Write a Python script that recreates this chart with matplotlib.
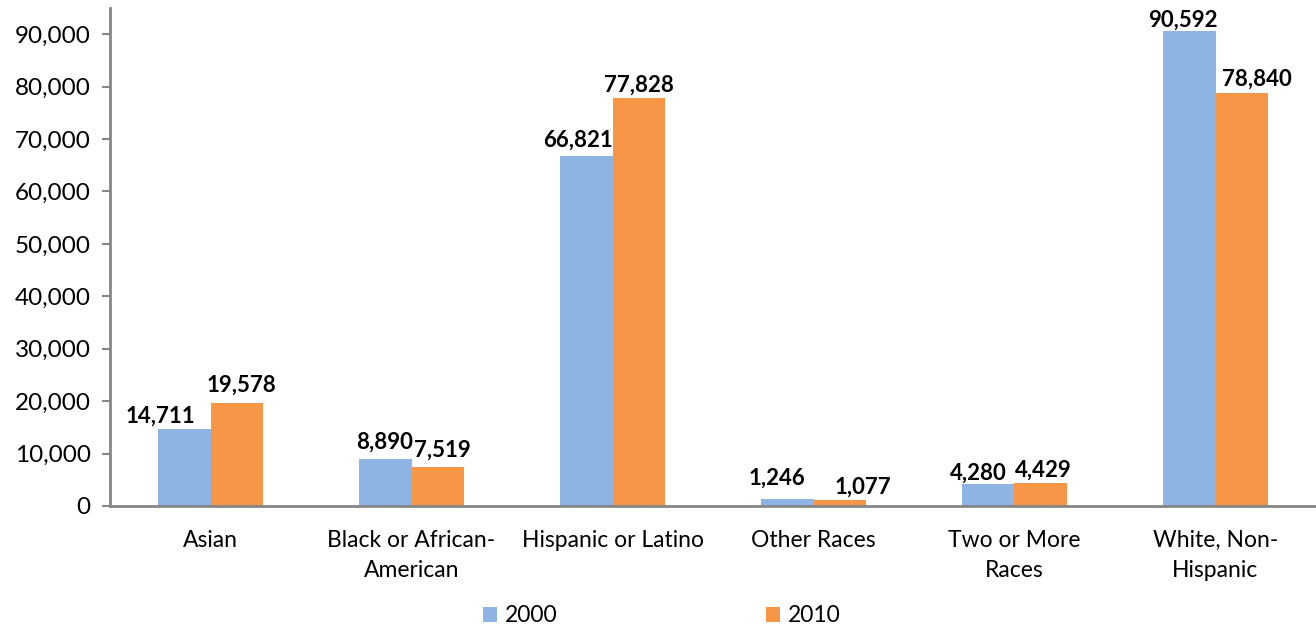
import matplotlib
matplotlib.use("Agg")
import matplotlib.pyplot as plt
from matplotlib.patches import Patch
import numpy as np

categories = ["Asian", "Black or African-\nAmerican", "Hispanic or Latino",
              "Other Races", "Two or More\nRaces", "White, Non-\nHispanic"]
series_names = ["2000", "2010"]
values_2000 = [14711, 8890, 66821, 1246, 4280, 90592]
values_2010 = [19578, 7519, 77828, 1077, 4429, 78840]
y_ticks = [0, 10000, 20000, 30000, 40000, 50000, 60000, 70000, 80000, 90000]

# label placement (pixels: horizontal shift, gap above bar) mimicking the original
place_2000 = [(-24, 6), (-1, 11), (-8, 9), (-10, 15), (-10, 4), (-6, 4)]
place_2010 = [(5, 12), (5, 10), (0, 6), (23, 7), (3, 6), (15, 7)]

colors = ["#8EB4E3", "#F79646"]
axis_gray = "#868686"

plt.rcParams['font.family'] = ['Lato', 'DejaVu Sans']

fig = plt.figure(figsize=(13.16, 6.28), dpi=100)
ax = fig.add_axes([110/1316, (628-506)/628, 1 - 110/1316, (506-8)/628])

x = np.arange(len(categories))
w = 0.261
b1 = ax.bar(x - w/2, values_2000, width=w, color=colors[0], label=series_names[0])
b2 = ax.bar(x + w/2, values_2010, width=w, color=colors[1], label=series_names[1])

px = 0.72
for bars, vals, place in ((b1, values_2000, place_2000), (b2, values_2010, place_2010)):
    for rect, v, (dx, gap) in zip(bars, vals, place):
        ax.annotate(f"{v:,}", (rect.get_x() + rect.get_width()/2, v),
                    xytext=(dx*px, gap*px), textcoords="offset points",
                    ha="center", va="baseline", fontsize=16, fontweight="bold",
                    color="black")

ax.set_xlim(-0.5, len(categories) - 0.5)
ax.set_ylim(0, 95000)
ax.set_yticks(y_ticks)
ax.set_yticklabels([f"{t:,}" for t in y_ticks], fontsize=17.5)
ax.set_xticks(x)
ax.set_xticklabels(categories, fontsize=16.5, linespacing=1.55)
ax.tick_params(axis="x", length=0, pad=17)
ax.tick_params(axis="y", length=6, width=1.5, color=axis_gray, pad=8)

for s in ("top", "right"):
    ax.spines[s].set_visible(False)
for s in ("left", "bottom"):
    ax.spines[s].set_color(axis_gray)
    ax.spines[s].set_linewidth(2)

handles = [Patch(facecolor=colors[0]), Patch(facecolor=colors[1])]
fig.legend(handles, series_names, loc="center",
           bbox_to_anchor=(0.5 + 4/1316, (628-616)/628),
           ncol=2, frameon=False, fontsize=16.5, handlelength=0.6, handleheight=0.6,
           handletextpad=0.35, columnspacing=9.1)

fig.savefig("out.png", dpi=100)
